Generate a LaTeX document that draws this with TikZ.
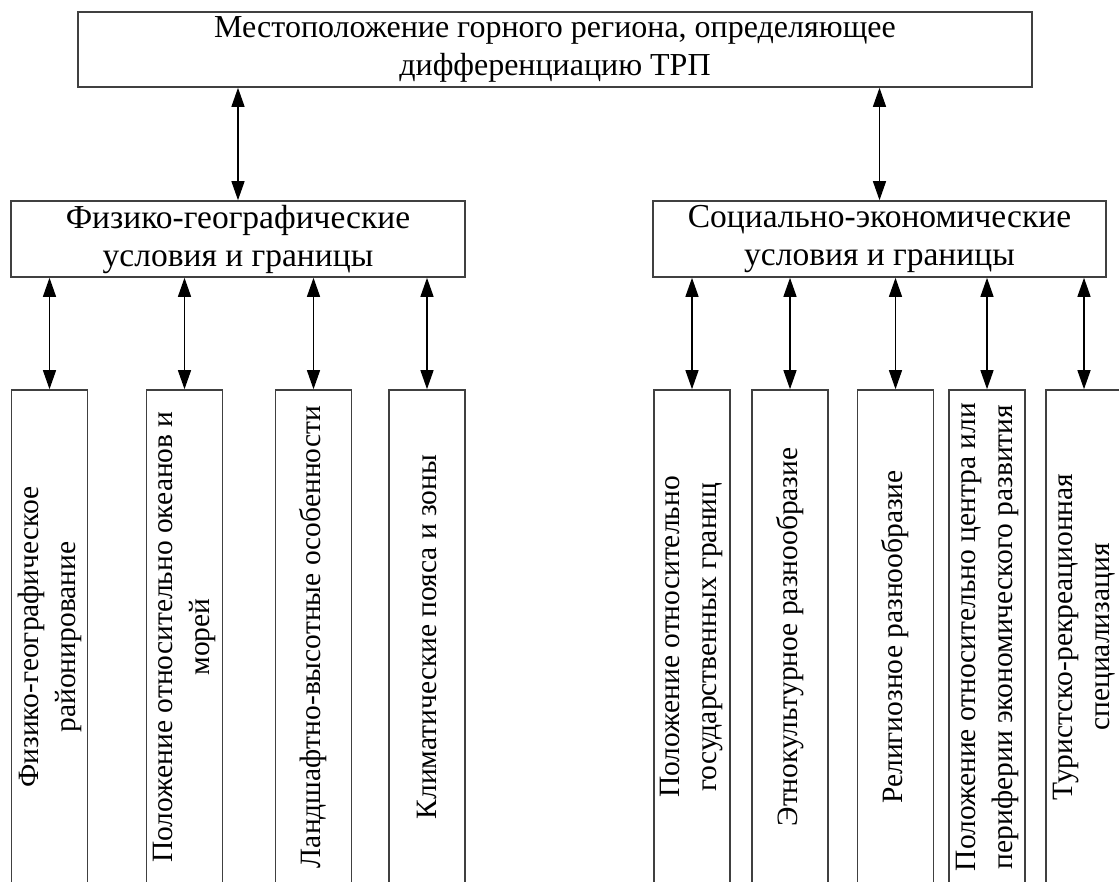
\documentclass[tikz,border=0pt]{standalone}
\usepackage{fontspec}
\setmainfont{Liberation Serif}
\usetikzlibrary{arrows.meta}
\begin{document}
\begin{tikzpicture}[x=1pt,y=-1pt,
  box/.style={draw=black!75, line width=1.6pt, fill=white, inner sep=0pt},
  hbox/.style={box, align=center},
  vbox/.style={box, minimum width=76pt, minimum height=494pt},
  vtext/.style={font=\fontsize{29.5}{37}\selectfont, align=center, inner sep=0pt, rotate=90},
  arr/.style={line width=1.3pt, {Triangle[length=19pt,width=13pt]}-{Triangle[length=19pt,width=13pt]}}]
\useasboundingbox (0,0) rectangle (1119,881);
\clip (0,0) rectangle (1119,881);
\fill[white] (0,0) rectangle (1119,881);

% top box
\node[hbox, font=\fontsize{32}{38}\selectfont, minimum width=954pt, minimum height=75pt] (top) at (555,49.5)
  {Местоположение горного региона, определяющее\\дифференциацию ТРП};

% middle boxes
\node[hbox, font=\fontsize{33.5}{38}\selectfont, minimum width=454pt, minimum height=76pt] (phys) at (238,239)
  {Физико-географические\\условия и границы};
\node[hbox, font=\fontsize{33.5}{38}\selectfont, minimum width=453pt, minimum height=76pt] (soc) at (879.5,239)
  {Социально-экономические\\условия и границы};

% bottom boxes
\node[vbox] (b1) at (49.5,637) {};
\node[vbox] (b2) at (184.5,637) {};
\node[vbox] (b3) at (313.5,637) {};
\node[vbox] (b4) at (427,637) {};
\node[vbox] (b5) at (692,637) {};
\node[vbox] (b6) at (790,637) {};
\node[vbox] (b7) at (895.5,637) {};
\node[vbox] (b8) at (987,637) {};
\node[vbox] (b9) at (1084,637) {};

\node[vtext] (t1) at (b1.center) {Физико-географическое\\районирование};
\node[vtext] (t2) at (b2.center) {Положение относительно океанов и\\морей};
\node[vtext] (t3) at (b3.center) {Ландшафтно-высотные особенности};
\node[vtext] (t4) at (b4.center) {Климатические пояса и зоны};
\node[vtext] (t5) at (b5.center) {Положение относительно\\государственных границ};
\node[vtext] (t6) at (b6.center) {Этнокультурное разнообразие};
\node[vtext] (t7) at (b7.center) {Религиозное разнообразие};
\node[vtext] (t8) at (b8.center) {Положение относительно центра или\\периферии экономического развития};
\node[vtext] (t9) at (b9.center) {Туристско-рекреационная\\специализация};

% connectors
\draw[arr] (top.south -| phys.north) -- (phys.north);
\draw[arr] (top.south -| soc.north) -- (soc.north);
\foreach \b in {b1,b2,b3,b4}
  \draw[arr] (phys.south -| \b.north) -- (\b.north);
\foreach \b in {b5,b6,b7,b8,b9}
  \draw[arr] (soc.south -| \b.north) -- (\b.north);
\end{tikzpicture}
\end{document}
